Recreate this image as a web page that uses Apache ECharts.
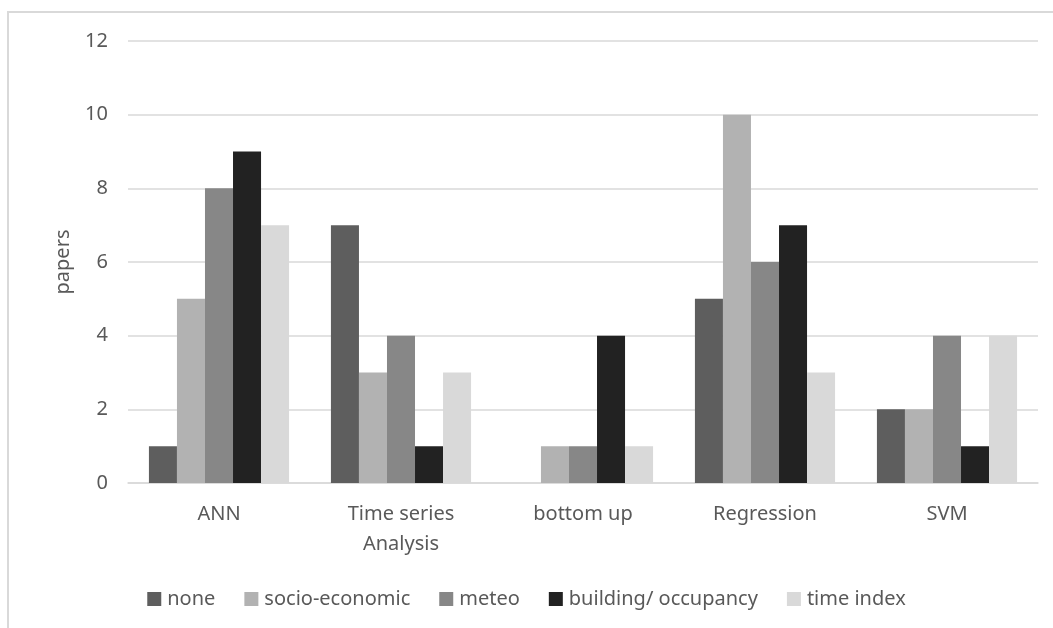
<!DOCTYPE html>
<html><head><meta charset="utf-8">
<script src="https://cdn.jsdelivr.net/npm/echarts@6/dist/echarts.min.js"></script>
<style>html,body{margin:0;padding:0;background:#fff}#c{width:1053px;height:628px}</style>
</head><body><div id="c"></div>
<script>
const categories = ['ANN', 'Time series\nAnalysis', 'bottom up', 'Regression', 'SVM'];
const seriesNames = ['none', 'socio-economic', 'meteo', 'building/ occupancy', 'time index'];
const noneVals = [1, 7, 0, 5, 2];
const socioVals = [5, 3, 1, 10, 2];
const meteoVals = [8, 4, 1, 6, 4];
const buildingVals = [9, 1, 4, 7, 1];
const timeIndexVals = [7, 3, 1, 3, 4];
const yTicks = [0, 2, 4, 6, 8, 10, 12];

const colors = ['#5e5e5e', '#b2b2b2', '#878787', '#222222', '#d9d9d9'];
const values = [noneVals, socioVals, meteoVals, buildingVals, timeIndexVals];
const font = 'Noto Sans';
const fs = 20;
const chart = echarts.init(document.getElementById('c'));
chart.setOption({
  animation: false,
  textStyle: { fontFamily: font },
  graphic: [{
    type: 'rect', shape: { x: 8, y: 12, width: 1200, height: 800 },
    style: { fill: 'none', stroke: '#d9d9d9', lineWidth: 2 }, silent: true
  }],
  grid: { left: 128, right: 15, top: 41, bottom: 145 },
  legend: {
    top: 584, left: 'center', itemWidth: 14, itemHeight: 14, itemGap: 29,
    icon: 'rect',
    textStyle: { color: '#595959', fontSize: fs, fontFamily: font, padding: [0, 0, 0, 1] },
    data: seriesNames
  },
  xAxis: {
    type: 'category', data: categories,
    axisLine: { lineStyle: { color: '#d9d9d9', width: 1.5 } },
    axisTick: { show: false },
    axisLabel: { color: '#595959', fontSize: fs, lineHeight: 30, margin: 16, fontFamily: font, interval: 0 }
  },
  yAxis: {
    type: 'value', min: 0, max: 12, interval: 2,
    name: 'papers', nameLocation: 'middle', nameGap: 55, nameRotate: 90,
    nameTextStyle: { color: '#595959', fontSize: fs, fontFamily: font },
    axisLine: { show: false }, axisTick: { show: false },
    splitLine: { lineStyle: { color: '#d9d9d9', width: 1.5 } },
    axisLabel: { color: '#595959', fontSize: fs, margin: 20, fontFamily: font,
      formatter: v => yTicks.includes(v) ? String(v) : '' }
  },
  series: seriesNames.map((n, i) => ({
    name: n, type: 'bar', data: values[i],
    barGap: '0%', barCategoryGap: '23%',
    itemStyle: { color: colors[i] }
  }))
});
</script></body></html>
